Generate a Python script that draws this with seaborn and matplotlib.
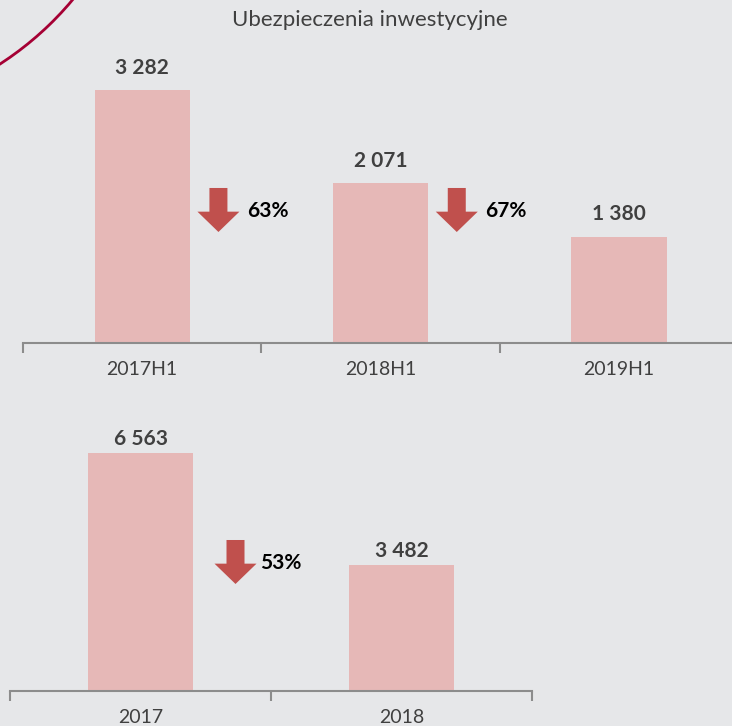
import matplotlib
matplotlib.use("Agg")
import matplotlib.pyplot as plt
from matplotlib.patches import Arc
from matplotlib.transforms import IdentityTransform
import numpy as np
import pandas as pd
import seaborn as sns

# data
half_years = ['2017H1', '2018H1', '2019H1']
half_values = [3282, 2071, 1380]
half_changes = ['63%', '67%']

years = ['2017', '2018']
year_values = [6563, 3482]
year_changes = ['53%']

title = 'Ubezpieczenia inwestycyjne'

bg = '#e6e7e9'
bar_color = '#e6b8b7'
arrow_color = '#c0504d'
text_dark = '#404040'

sns.set_theme(style="white")
plt.rcParams['font.family'] = ['Lato', 'DejaVu Sans']

fig = plt.figure(figsize=(7.32, 7.26), dpi=100)
fig.patch.set_facecolor(bg)

W, H = 732, 726


def fmt(v):
    return f"{v:,.0f}".replace(",", " ")


def setup_axes(ax, cats, ymax):
    ax.set_facecolor(bg)
    ax.set_xlim(-0.5, len(cats) - 0.5)
    ax.set_ylim(0, ymax)
    ax.set_yticks([])
    ax.set_ylabel('')
    ax.set_xlabel('')
    for s in ['top', 'right', 'left']:
        ax.spines[s].set_visible(False)
    ax.spines['bottom'].set_color('#8c8c8c')
    ax.spines['bottom'].set_linewidth(1.5)
    ax.set_xticks(np.arange(len(cats) + 1) - 0.5)
    ax.set_xticklabels([])
    ax.tick_params(axis='x', which='major', length=7, width=1.5, color='#8c8c8c', direction='out', bottom=True)
    ax.set_xticks(np.arange(len(cats)), cats, minor=True)
    ax.tick_params(axis='x', which='minor', length=0, pad=13, labelsize=14, labelcolor=text_dark)


def draw_arrow(ax, x, y_top, y_bot):
    ax.annotate('', xy=(x, y_bot), xytext=(x, y_top),
                arrowprops=dict(arrowstyle='simple,head_length=1.22,head_width=2.52,tail_width=1.08',
                                color=arrow_color, lw=0, shrinkA=0, shrinkB=0),
                annotation_clip=False)


# top panel: half-years
ax1 = fig.add_axes([23 / W, (H - 343) / H, 715 / W, 313 / H])
df1 = pd.DataFrame({'okres': half_years, 'wartosc': half_values})
sns.barplot(data=df1, x='okres', y='wartosc', color=bar_color, width=0.4, saturation=1,
            linewidth=0, ax=ax1)
setup_axes(ax1, half_years, 313 / (253 / 3282))
ax1.bar_label(ax1.containers[0], labels=[fmt(v) for v in half_values], padding=9,
              fontsize=15, fontweight='bold', color=text_dark)
for i, lab in enumerate(half_changes):
    draw_arrow(ax1, i + 0.32, 2011, 1440)
    ax1.text(i + 0.44, 1712, lab, ha='left', va='center', fontsize=15, fontweight='bold', color='black')

# bottom panel: years
ax2 = fig.add_axes([10 / W, 35 / H, 522 / W, 271 / H])
df2 = pd.DataFrame({'okres': years, 'wartosc': year_values})
sns.barplot(data=df2, x='okres', y='wartosc', color=bar_color, width=0.4, saturation=1,
            linewidth=0, ax=ax2)
setup_axes(ax2, years, 271 / (238 / 6563))
ax2.bar_label(ax2.containers[0], labels=[fmt(v) for v in year_values], padding=3,
              fontsize=15, fontweight='bold', color=text_dark)
for i, lab in enumerate(year_changes):
    draw_arrow(ax2, i + 0.364, 4164, 2951)
    ax2.text(i + 0.458, 3530, lab, ha='left', va='center', fontsize=15, fontweight='bold', color='black')

fig.text(370 / W, 1 - 20 / H, title, ha='center', va='center', fontsize=16, color=text_dark)

# decorative arc in the top-left corner
arc = Arc((-176, H + 208), 648, 648, theta1=-62, theta2=-30, color='#a50034', lw=2,
          transform=IdentityTransform())
fig.add_artist(arc)

fig.savefig('out.png', dpi=100, facecolor=bg)
